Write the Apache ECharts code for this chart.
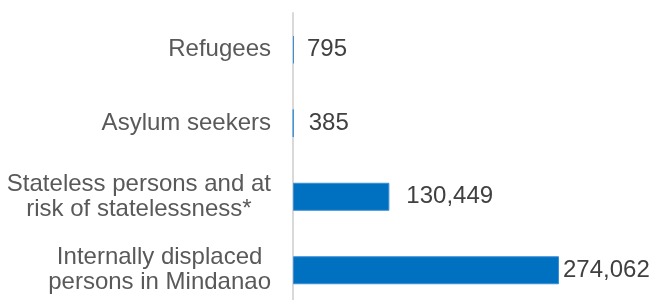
<!DOCTYPE html>
<html>
<head>
<meta charset="utf-8">
<script src="https://cdn.jsdelivr.net/npm/echarts@6/dist/echarts.min.js"></script>
<style>
  html, body { margin: 0; padding: 0; background: #fff; }
  #chart { width: 652px; height: 300px; }
</style>
</head>
<body>
<div id="chart"></div>
<script>
// categories, top to bottom
const categories = [
  ['Refugees'],
  ['Asylum seekers'],
  ['Stateless persons and at', 'risk of statelessness*'],
  ['Internally displaced', 'persons in Mindanao']
]
const values = [795, 385, 130449, 274062]

// the source chart squeezes the value scale, so collapse that span with an axis break
const labelGap = [13, 15, 17, 4]

const chartDom = document.getElementById('chart')
const myChart = echarts.init(chartDom)
const font = 'Liberation Sans, Arial, sans-serif'
const option = {
  animation: false,
  grid: {
    left: 293,
    right: 93,
    top: 13,
    height: 294,
    outerBoundsMode: 'none'
  },
  xAxis: {
    type: 'value',
    min: 0,
    max: 274062,
    show: false,
    breaks: [{ start: 1000, end: 49870, gap: 0 }],
    breakArea: { show: false },
    splitLine: { show: false }
  },
  yAxis: {
    type: 'category',
    inverse: true,
    data: categories.map((c) => c.map((l) => '{c|' + l + '}').join('\n')),
    axisLine: {
      show: true,
      lineStyle: { color: '#d9d9d9', width: 2 }
    },
    axisTick: { show: false },
    axisLabel: {
      margin: 22,
      align: 'right',
      color: '#595959',
      fontFamily: font,
      fontSize: 24,
      lineHeight: 25,
      rich: {
        c: {
          align: 'center',
          color: '#595959',
          fontFamily: font,
          fontSize: 24,
          lineHeight: 25
        }
      }
    }
  },
  series: [
    {
      type: 'bar',
      barWidth: 28,
      data: values.map((v, i) => ({
        value: v,
        label: { distance: labelGap[i] }
      })),
      itemStyle: {
        color: '#0070c0',
        borderColor: '#3a8fd6',
        borderWidth: 1
      },
      label: {
        show: true,
        position: 'right',
        color: '#404040',
        fontFamily: font,
        fontSize: 24,
        formatter: (p) => p.value.toLocaleString('en-US')
      }
    }
  ]
}
option && myChart.setOption(option)
</script>
</body>
</html>
